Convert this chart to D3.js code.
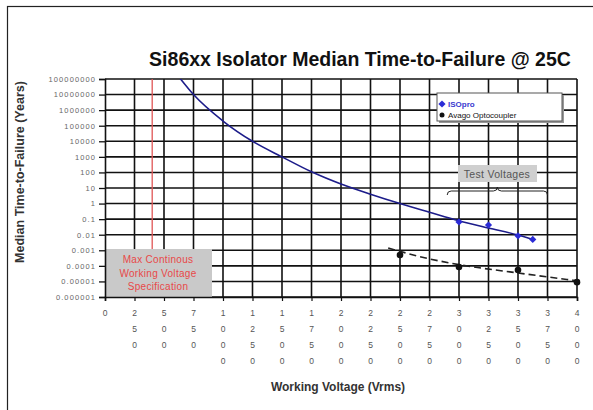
<!DOCTYPE html>
<html>
<head>
<meta charset="utf-8">
<script src="https://cdn.jsdelivr.net/npm/d3@7"></script>
<style>
  body { margin: 0; background: #fff; }
  svg { display: block; font-family: "Liberation Sans", Arial, sans-serif; }
</style>
</head>
<body>
<div id="chart"></div>
<script>
// data
const xTicks = [0, 250, 500, 750, 1000, 1250, 1500, 1750, 2000, 2250, 2500, 2750, 3000, 3250, 3500, 3750, 4000];
const yTicks = [100000000, 10000000, 1000000, 100000, 10000, 1000, 100, 10, 1, 0.1, 0.01, 0.001, 0.0001, 0.00001, 0.000001];
const yTickLabels = ['100000000', '10000000', '1000000', '100000', '10000', '1000', '100', '10', '1', '0.1', '0.01', '0.001', '0.0001', '0.00001', '0.000001'];

// ISOpro fitted curve
const isoCurveV = [636, 750, 1000, 1250, 1500, 1750, 2000, 2250, 2500, 2750, 3000, 3250, 3500, 3625];
const isoCurveT = [1.1e8, 1e7, 2e5, 1e4, 1000, 110, 18, 4, 1, 0.28, 0.08, 0.027, 0.0095, 0.005];
// ISOpro test points
const isoV = [3000, 3250, 3500, 3625];
const isoT = [0.066, 0.042, 0.0085, 0.005];

// Avago test points and dashed fit
const avagoV = [2500, 3000, 3500, 4000];
const avagoT = [0.0005, 0.000085, 0.000054, 0.000009];
const avagoFitV = [2400, 2750, 3000, 3500, 4000];
const avagoFitT = [0.0014, 0.00028, 0.00012, 0.000035, 0.000011];

const maxWorkingV = 400;
const testRange = [2900, 3750];

const W = 593, H = 410;
const svg = d3.select('#chart').append('svg')
  .attr('width', W).attr('height', H);

// outer frame
svg.append('rect')
  .attr('x', 7.5).attr('y', 6.5)
  .attr('width', W + 10).attr('height', H + 10)
  .attr('fill', 'none').attr('stroke', '#222').attr('stroke-width', 1.2);

const x = d3.scaleLinear().domain([0, 4000]).range([105, 577]);
const y = d3.scaleLog().domain([1e-6, 1e8]).range([297, 79]);

// title
svg.append('text')
  .attr('x', 360).attr('y', 66)
  .attr('text-anchor', 'middle')
  .attr('font-size', 19.5).attr('font-weight', 'bold')
  .attr('fill', '#111')
  .text('Si86xx Isolator Median Time-to-Failure @ 25C');

// grid
const grid = svg.append('g');
grid.selectAll('.hg').data(yTicks).enter().append('line')
  .attr('x1', x(0)).attr('x2', x(4000))
  .attr('y1', d => y(d)).attr('y2', d => y(d))
  .attr('stroke', '#111').attr('stroke-width', 1.6);
grid.selectAll('.vg').data(xTicks.slice(1)).enter().append('line')
  .attr('x1', d => x(d)).attr('x2', d => x(d))
  .attr('y1', y(1e8)).attr('y2', y(1e-6))
  .attr('stroke', '#111').attr('stroke-width', 1.6);

// max working voltage line
svg.append('line')
  .attr('x1', x(maxWorkingV)).attr('x2', x(maxWorkingV))
  .attr('y1', y(1e8)).attr('y2', y(1e-6))
  .attr('stroke', '#e05555').attr('stroke-width', 1.3);

// spec box
const spec = svg.append('g');
spec.append('rect')
  .attr('x', x(0)).attr('y', 249)
  .attr('width', 107).attr('height', 297 - 249)
  .attr('fill', '#c9c9c9');
['Max Continous', 'Working Voltage', 'Specification'].forEach((t, i) => {
  spec.append('text')
    .attr('x', 158).attr('y', 263 + i * 13.5)
    .attr('text-anchor', 'middle')
    .attr('font-size', 10).attr('letter-spacing', 0.3)
    .attr('fill', '#e84848')
    .text(t);
});

// axes
const yAxis = svg.append('g')
  .attr('transform', `translate(${x(0)},0)`)
  .call(d3.axisLeft(y).tickValues(yTicks).tickFormat((d, i) => yTickLabels[i]).tickSize(6).tickPadding(3));
yAxis.select('.domain').attr('stroke', '#111').attr('stroke-width', 1.6);
yAxis.selectAll('.tick line').attr('stroke', '#111').attr('stroke-width', 1.3);
yAxis.selectAll('.tick text')
  .attr('font-family', '"Liberation Sans", Arial, sans-serif')
  .attr('font-size', 7.5).attr('letter-spacing', 1.1).attr('fill', '#666');

const xAxis = svg.append('g')
  .attr('transform', `translate(0,${y(1e-6)})`)
  .call(d3.axisBottom(x).tickValues(xTicks).tickFormat('').tickSize(4));
xAxis.select('.domain').attr('stroke', '#111').attr('stroke-width', 1.6);
xAxis.selectAll('.tick line').attr('stroke', '#111').attr('stroke-width', 1.2);

// stacked digit tick labels
const xl = svg.append('g');
xTicks.forEach(v => {
  const t = xl.append('text')
    .attr('font-size', 8.5).attr('fill', '#555')
    .attr('text-anchor', 'middle');
  String(v).split('').forEach((c, i) => {
    t.append('tspan').attr('x', x(v)).attr('y', 316 + i * 16).text(c);
  });
});

// axis titles
svg.append('text')
  .attr('x', 338).attr('y', 391)
  .attr('text-anchor', 'middle')
  .attr('font-size', 12).attr('font-weight', 'bold').attr('fill', '#333')
  .text('Working Voltage (Vrms)');
svg.append('text')
  .attr('transform', 'translate(24,172) rotate(-90)')
  .attr('text-anchor', 'middle')
  .attr('font-size', 12.5).attr('font-weight', 'bold').attr('fill', '#333')
  .text('Median Time-to-Failure (Years)');

// clip
svg.append('clipPath').attr('id', 'plot')
  .append('rect').attr('x', x(0)).attr('y', y(1e8))
  .attr('width', x(4000) - x(0) + 3).attr('height', y(1e-6) - y(1e8));

const line = d3.line().curve(d3.curveMonotoneX)
  .x(d => x(d[0])).y(d => y(d[1]));

svg.append('path')
  .datum(isoCurveV.map((v, i) => [v, isoCurveT[i]]))
  .attr('clip-path', 'url(#plot)')
  .attr('d', line)
  .attr('fill', 'none').attr('stroke', '#1c1c8a').attr('stroke-width', 1.6);

svg.append('path')
  .datum(avagoFitV.map((v, i) => [v, avagoFitT[i]]))
  .attr('d', line)
  .attr('fill', 'none').attr('stroke', '#222').attr('stroke-width', 1.6)
  .attr('stroke-dasharray', '7,4');

const diamond = d3.symbol().type(d3.symbolSquare).size(26);
svg.selectAll('.iso').data(isoV).enter().append('path')
  .attr('d', diamond)
  .attr('transform', (d, i) => `translate(${x(d)},${y(isoT[i])}) rotate(45)`)
  .attr('fill', '#2b2bd6');

svg.selectAll('.avago').data(avagoV).enter().append('circle')
  .attr('cx', d => x(d)).attr('cy', (d, i) => y(avagoT[i]))
  .attr('r', 3.3).attr('fill', '#111');

// test voltages label and brace
const tv = svg.append('g');
tv.append('rect').attr('x', 458).attr('y', 165).attr('width', 79).attr('height', 17).attr('fill', '#cfcfcf');
tv.append('text').attr('x', 497).attr('y', 178)
  .attr('text-anchor', 'middle').attr('font-size', 10.5).attr('letter-spacing', 0.3)
  .attr('fill', '#555').text('Test Voltages');
const bx0 = x(testRange[0]), bx1 = x(testRange[1]), bm = (bx0 + bx1) / 2, by = 191;
tv.append('path')
  .attr('d', `M${bx0},${by + 4} Q${bx0},${by} ${bx0 + 4},${by} L${bm - 4},${by} Q${bm},${by} ${bm},${by - 4} Q${bm},${by} ${bm + 4},${by} L${bx1 - 4},${by} Q${bx1},${by} ${bx1},${by + 4}`)
  .attr('fill', 'none').attr('stroke', '#222').attr('stroke-width', 1);

// legend
const lg = svg.append('g').attr('transform', 'translate(437,93)');
lg.append('rect').attr('x', 2).attr('y', 2).attr('width', 125).attr('height', 28).attr('fill', '#999');
lg.append('rect').attr('x', 0).attr('y', 0).attr('width', 125).attr('height', 28)
  .attr('fill', '#fff').attr('stroke', '#555').attr('stroke-width', 1);
lg.append('path').attr('d', diamond).attr('transform', 'translate(5,11) rotate(45)').attr('fill', '#2b2bd6');
lg.append('text').attr('x', 11).attr('y', 14).attr('font-size', 8).attr('font-weight', 'bold')
  .attr('fill', '#3a3ad0').text('ISOpro');
lg.append('circle').attr('cx', 5).attr('cy', 22).attr('r', 2.5).attr('fill', '#111');
lg.append('text').attr('x', 11).attr('y', 25).attr('font-size', 8)
  .attr('fill', '#111').text('Avago Optocoupler');
</script>
</body>
</html>
